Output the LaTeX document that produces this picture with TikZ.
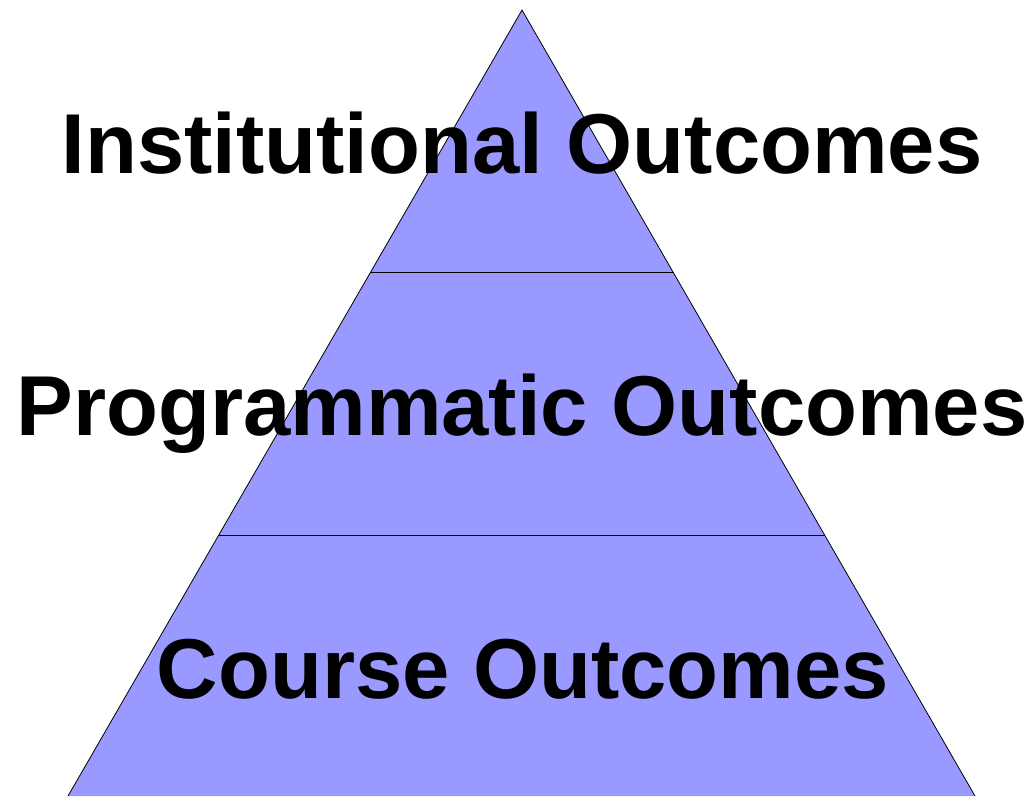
\documentclass[tikz,border=0pt]{standalone}
\usepackage{fontspec}
\setmainfont{Liberation Sans}
\definecolor{pyr}{HTML}{9999FF}
\begin{document}
\begin{tikzpicture}[x=1pt,y=-1pt,
  tier/.style={draw=black,line width=0.8pt},
  label/.style={anchor=base,inner sep=0pt,font=\fontsize{85}{90}\selectfont\bfseries}]
\useasboundingbox (0,0) rectangle (1035,796);
\coordinate (apex) at (522,10);
\coordinate (bl) at (68,796);
\coordinate (br) at (975,796);
\coordinate (l1) at (370.7,272);
\coordinate (r1) at (673.2,272);
\coordinate (l2) at (218.8,535);
\coordinate (r2) at (824.6,535);
\fill[pyr] (apex) -- (bl) -- (br) -- cycle;
\draw[tier] (bl) -- (apex) -- (br);
\draw[tier] (l1) -- (r1);
\draw[tier] (l2) -- (r2);
\node[label] (inst) at (522,173) {Institutional Outcomes};
\node[label] (prog) at (522,435) {Programmatic Outcomes};
\node[label] (course) at (523,698) {Course Outcomes};
\end{tikzpicture}
\end{document}
